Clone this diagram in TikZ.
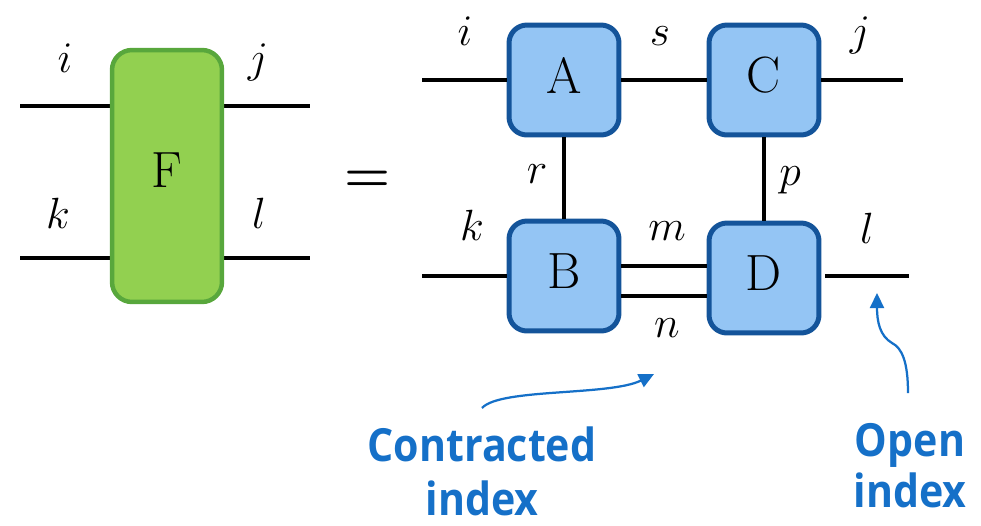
\documentclass[tikz,border=0pt]{standalone}
\usepackage{fontspec}
\newfontfamily\annfont[FakeStretch=0.9]{Open Sans}
\usetikzlibrary{arrows.meta}
\definecolor{gfill}{HTML}{92D050}
\definecolor{gdraw}{HTML}{58A73C}
\definecolor{bfill}{HTML}{94C5F4}
\definecolor{bdraw}{HTML}{14549A}
\definecolor{anncol}{HTML}{1570C8}
\begin{document}
\begin{tikzpicture}[x=0.02cm,y=-0.02cm,
  tens/.style={draw=bdraw,fill=bfill,line width=0.1cm,rounded corners=0.36cm,
    minimum width=2.2cm,minimum height=2.2cm,inner sep=0pt,text depth=0.2cm,
    font=\fontsize{29}{30}\selectfont},
  ftens/.style={draw=gdraw,fill=gfill,line width=0.09cm,rounded corners=0.4cm,
    minimum width=2.2cm,minimum height=5.04cm,inner sep=0pt,text depth=0.24cm,
    font=\fontsize{29}{30}\selectfont},
  leg/.style={line width=0.095cm,black},
  lbl/.style={inner sep=0pt,anchor=base,font=\fontsize{30}{31}\selectfont},
  ann/.style={text=anncol,align=center,inner sep=0pt,anchor=base,
    font=\annfont\bfseries\fontsize{26}{30.5}\selectfont},
  annarrow/.style={draw=anncol,line width=0.045cm,-{Triangle[length=0.3cm,width=0.28cm]}}]
\useasboundingbox (0,0) rectangle (981,525);

% left tensor
\coordinate (Li) at (20,106);
\coordinate (Lj) at (310,106);
\coordinate (Lk) at (20,258);
\coordinate (Ll) at (310,258);
\draw[leg] (Li) -- (Lj);
\draw[leg] (Lk) -- (Ll);
\node[ftens] (F) at (167,176) {F};
\node[lbl] (li) at (65,72) {$i$};
\node[lbl] (lj) at (258,72) {$j$};
\node[lbl] (lk) at (58,228) {$k$};
\node[lbl] (ll) at (259,228) {$l$};

\node[lbl,font=\fontsize{30}{31}\selectfont\bfseries] (eq) at (368,191) {=};

% right network
\node[tens] (A) at (564,80) {A};
\node[tens] (C) at (764,80) {C};
\node[tens] (B) at (564,276) {B};
\node[tens] (D) at (764,278) {D};
\coordinate (Ri) at (422,80);
\coordinate (Rj) at (903,80);
\coordinate (Rk) at (422,276);
\coordinate (Rl) at (909,276);
\coordinate (Rm) at (664,266);
\coordinate (Rn) at (664,296);
\draw[leg] (Ri) -- (A.west);
\draw[leg] (A.east) -- (C.west);
\draw[leg] (C.east) -- (Rj);
\draw[leg] (A.south) -- (B.north);
\draw[leg] (C.south) -- (D.north);
\draw[leg] (Rk) -- (B.west);
\draw[leg] (Rm -| B.east) -- (Rm -| D.west);
\draw[leg] (Rn -| B.east) -- (Rn -| D.west);
\draw[leg,shorten <=0.08cm] (Rl -| D.east) -- (Rl);

\node[lbl] (ri) at (465,45) {$i$};
\node[lbl] (rs) at (660,45) {$s$};
\node[lbl] (rj) at (860,45) {$j$};
\node[lbl] (rr) at (537,183) {$r$};
\node[lbl] (rp) at (790,185) {$p$};
\node[lbl] (rk) at (472,240) {$k$};
\node[lbl] (rm) at (667,240) {$m$};
\node[lbl] (rn) at (667,337) {$n$};
\node[lbl] (rl) at (867,243) {$l$};

% annotations
\coordinate (ca0) at (482,408);
\coordinate (ca1) at (654,374);
\draw[annarrow] (ca0) .. controls (500,388) and (610,396) .. (ca1);
\coordinate (oa0) at (908,393);
\coordinate (oa1) at (877,293);
\draw[annarrow] (oa0) .. controls (908,362) and (902,348) .. (892,343)
  .. controls (880,336) and (877,322) .. (oa1);
\node[ann] (ctxt) at (482,515) {Contracted\\index};
\node[ann,font=\annfont\bfseries\fontsize{26}{28.5}\selectfont] (otxt) at (910,507) {Open\\index};
\end{tikzpicture}
\end{document}
